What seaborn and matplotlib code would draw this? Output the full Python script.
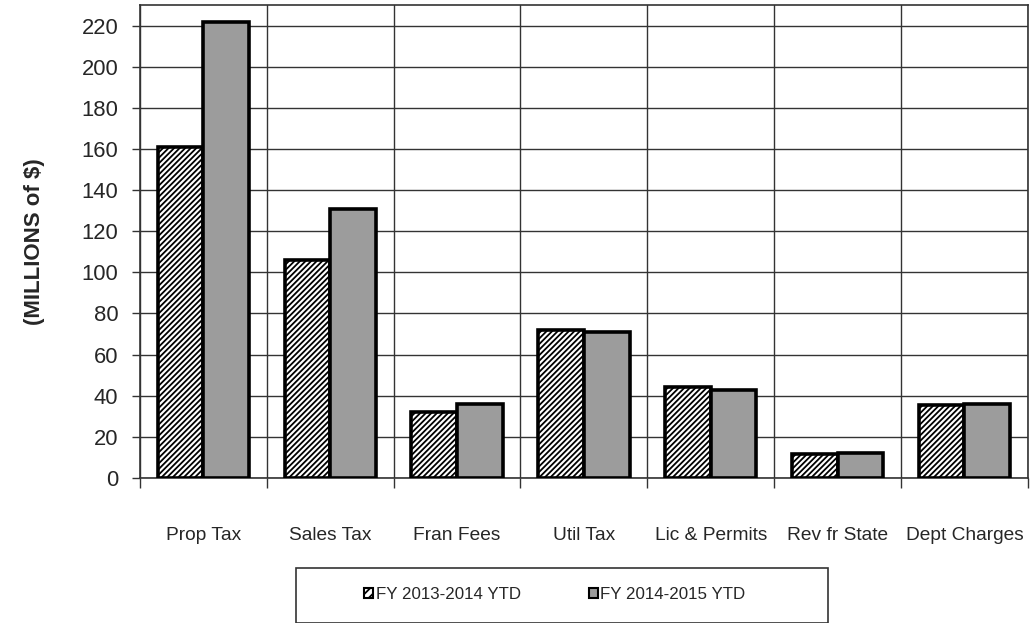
import numpy as np
import pandas as pd
import matplotlib
matplotlib.use("Agg")
import matplotlib.pyplot as plt
from matplotlib.patches import Rectangle, Patch
import seaborn as sns

# data (millions of $)
categories = ["Prop Tax", "Sales Tax", "Fran Fees", "Util Tax",
              "Lic & Permits", "Rev fr State", "Dept Charges"]
fy2014 = [161, 106, 32, 72, 44, 11.5, 35.5]
fy2015 = [221.5, 131, 36, 71, 43, 12, 36]
series = ["FY 2013-2014 YTD", "FY 2014-2015 YTD"]
yticks = list(range(0, 221, 20))

df = pd.DataFrame({
    "cat": categories * 2,
    "year": [series[0]] * len(categories) + [series[1]] * len(categories),
    "val": fy2014 + fy2015,
})

sns.set_style("white")
plt.rcParams["font.family"] = ["Liberation Sans", "DejaVu Sans"]
plt.rcParams["hatch.linewidth"] = 1.3

fig = plt.figure(figsize=(10.33, 6.23), dpi=100)
ax = fig.add_axes([0.1355, 0.2328, 0.8595, 0.7592])

sns.barplot(data=df, x="cat", y="val", hue="year", order=categories,
            hue_order=series, palette=["white", "#9c9c9c"],
            width=0.72, gap=0, edgecolor="black", linewidth=2.6,
            saturation=1, ax=ax, legend=False, zorder=3)

# hatch the first series
n = len(categories)
for i, bar in enumerate(ax.patches):
    if i < n:
        bar.set_hatch("//////")
    bar.set_zorder(3)

ax.set_ylim(0, 230)
ax.set_xlim(-0.5, n - 0.5)
ax.set_yticks(yticks)
ax.yaxis.grid(True, color="#333333", linewidth=1.0, zorder=0)

# vertical grid lines at category boundaries
ax.set_xticks(np.arange(-0.5, n, 1.0), minor=True)
ax.xaxis.grid(True, which="minor", color="#333333", linewidth=1.0, zorder=0)
ax.tick_params(axis="x", which="minor", length=7, width=1, color="#333333",
               direction="out", bottom=True)
ax.tick_params(axis="x", which="major", length=0, pad=35, labelsize=13.8)
ax.tick_params(axis="y", length=6, width=1, color="#333333", direction="out",
               left=True, pad=9.5, labelsize=15.8)

for s in ax.spines.values():
    s.set_color("#333333")
    s.set_linewidth(1.2)

ax.set_xlabel("")
ax.set_ylabel("(MILLIONS of $)", fontsize=16, fontweight="bold", labelpad=26)

# legend box
fig.patches.append(Rectangle((0.2865, 0.0), 0.515, 0.088, transform=fig.transFigure,
                             facecolor="white", edgecolor="#333333", linewidth=1.2))
handles = [Patch(facecolor="white", edgecolor="black", hatch="////", linewidth=1.5),
           Patch(facecolor="#9c9c9c", edgecolor="black", linewidth=1.5)]
fig.legend(handles, series, loc="center", bbox_to_anchor=(0.537, 0.046),
           ncol=2, frameon=False, fontsize=12.2, handlelength=0.55,
           handleheight=0.55, handletextpad=0.15, columnspacing=4.0)

fig.savefig("out.png", dpi=100)
